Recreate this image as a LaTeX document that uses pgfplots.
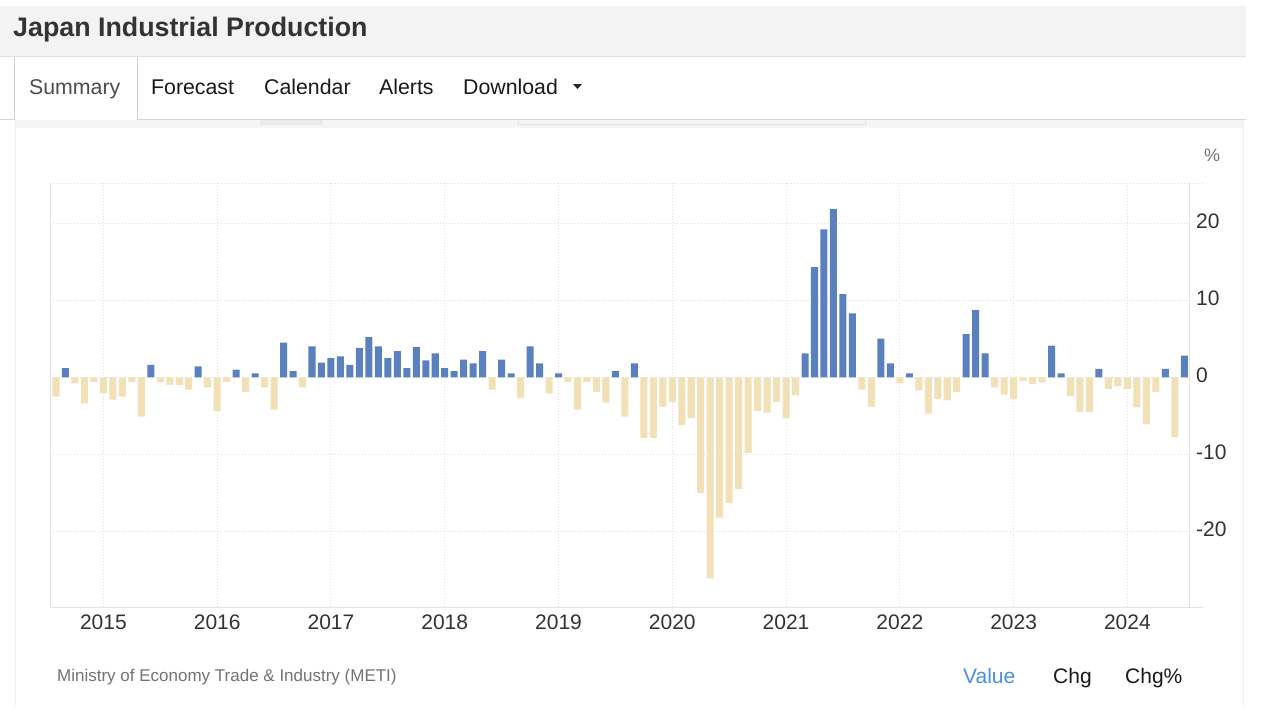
\documentclass[border=0pt]{standalone}
\usepackage{fontspec}
\setmainfont{Liberation Sans}
\usepackage{pgfplots}
\usepackage{pgfplotstable}
\pgfplotsset{compat=1.18}

\definecolor{barblue}{RGB}{91,128,190}
\definecolor{bartan}{RGB}{242,224,183}
\definecolor{gridgray}{RGB}{222,222,222}
\definecolor{axisgray}{RGB}{228,228,228}
\definecolor{headbg}{RGB}{243,243,243}
\definecolor{txtdark}{RGB}{51,51,51}
\definecolor{txtgray}{RGB}{115,115,115}
\definecolor{linkblue}{RGB}{74,144,226}

% month index 0 = Aug 2014 ... 119 = Jul 2024, YoY change in %
\pgfplotstableread{
idx val
0 -2.5
1 1.2
2 -0.8
3 -3.4
4 -0.6
5 -2.1
6 -2.9
7 -2.5
8 -0.6
9 -5.1
10 1.6
11 -0.65
12 -1.0
13 -1.0
14 -1.6
15 1.4
16 -1.3
17 -4.4
18 -0.6
19 1.0
20 -1.9
21 0.5
22 -1.3
23 -4.2
24 4.5
25 0.8
26 -1.3
27 4.0
28 1.9
29 2.5
30 2.7
31 1.6
32 3.8
33 5.2
34 4.0
35 2.5
36 3.4
37 1.2
38 3.9
39 2.2
40 3.1
41 1.2
42 0.8
43 2.3
44 1.8
45 3.4
46 -1.6
47 2.3
48 0.5
49 -2.7
50 4.0
51 1.8
52 -2.1
53 0.5
54 -0.6
55 -4.2
56 -0.6
57 -1.9
58 -3.3
59 0.8
60 -5.1
61 1.8
62 -7.9
63 -7.9
64 -3.8
65 -3.2
66 -6.2
67 -5.3
68 -15.0
69 -26.1
70 -18.2
71 -16.3
72 -14.5
73 -9.8
74 -4.4
75 -4.6
76 -3.2
77 -5.3
78 -2.3
79 3.1
80 14.3
81 19.2
82 21.8
83 10.8
84 8.3
85 -1.6
86 -3.8
87 5.0
88 1.8
89 -0.8
90 0.5
91 -1.7
92 -4.7
93 -2.8
94 -3.0
95 -1.9
96 5.6
97 8.7
98 3.1
99 -1.3
100 -2.25
101 -2.8
102 -0.5
103 -0.9
104 -0.7
105 4.1
106 0.5
107 -2.4
108 -4.5
109 -4.5
110 1.1
111 -1.5
112 -1.1
113 -1.5
114 -3.9
115 -6.1
116 -1.9
117 1.1
118 -7.8
119 2.8
}\ipdata

\begin{document}
\begin{tikzpicture}
\begin{scope}[x=1pt,y=-1pt]
\fill[white] (0,0) rectangle (1262,712);
\path[use as bounding box] (0,0) rectangle (1262,712);

% header
\fill[headbg] (0,6) rectangle (1246,56);
\draw[gray!25] (0,56.5) -- (1246,56.5);
\node[anchor=base west, inner sep=0, text=txtdark,
  font=\fontsize{26.8}{30}\selectfont\bfseries] at (13,36) {Japan Industrial Production};

% tabs
\draw[gray!35] (0,119.5) -- (14.5,119.5) -- (14.5,57) (137,57) -- (137,119.5) -- (1246,119.5);
\begin{scope}[every node/.style={anchor=base west, inner sep=0, font=\fontsize{21.3}{24}\selectfont}]
\node[text=black!70] at (29,94) {Summary};
\node[text=black!90] at (151,94) {Forecast};
\node[text=black!90] at (264,94) {Calendar};
\node[text=black!90] at (379,94) {Alerts};
\node[text=black!90] at (463,94) {Download};
\end{scope}
\fill[black!85] (573,84) -- (582,84) -- (577.5,89) -- cycle;

% panel
\fill[gray!8] (15,120) rectangle (1243,128);
\fill[gray!16] (260,120) rectangle (323,125);
\draw[gray!22] (518,119.5) -- (518,124) -- (865,124) -- (865,119.5);
\draw[gray!12] (15,120) -- (15,706) (1243,120) -- (1243,706);
\end{scope}

\begin{axis}[
  at={(50pt,-607pt)}, anchor=south west,
  width=1139pt, height=424pt, scale only axis,
  xmin=-0.633, xmax=119.5,
  ymin=-29.8, ymax=25.2,
  axis line style={draw=none},
  major tick length=0pt,
  xtick={5,17,29,41,53,65,77,89,101,113},
  xticklabels={2015,2016,2017,2018,2019,2020,2021,2022,2023,2024},
  ytick={-20,-10,0,10,20},
  yticklabels={-20,-10,0,10,20},
  ytick pos=right, yticklabel pos=right,
  xmajorgrids, ymajorgrids,
  major grid style={gridgray, line width=1pt, dash pattern=on 1pt off 2pt},
  xticklabel style={font=\fontsize{21}{24}\selectfont, text=txtdark,
    inner sep=0pt, anchor=north, yshift=-8pt},
  yticklabel style={font=\fontsize{21}{24}\selectfont, text=txtdark,
    inner sep=0pt, anchor=west, xshift=7pt, yshift=2pt},
  clip=false,
]
\addplot[ybar, bar width=0.74, bar shift=0pt, fill=barblue, draw=none,
  restrict y to domain=0:40] table[x=idx, y=val] {\ipdata};
\addplot[ybar, bar width=0.74, bar shift=0pt, fill=bartan, draw=none,
  restrict y to domain=-40:0] table[x=idx, y=val] {\ipdata};
\end{axis}

\begin{scope}[x=1pt,y=-1pt]
% axis frame
\draw[gridgray, line width=1pt, dash pattern=on 1pt off 2pt] (50,183) -- (1203,183);
\draw[axisgray, line width=1pt] (50,183) -- (50,607.5) -- (1203,607.5);
\draw[axisgray, line width=1pt] (1189,183) -- (1189,607);

\node[anchor=center, inner sep=0, text=txtgray, font=\fontsize{18}{20}\selectfont] at (1212,155) {\%};

% footer
\node[anchor=base west, inner sep=0, text=txtgray, font=\fontsize{17}{20}\selectfont]
  at (57,681) {Ministry of Economy Trade \& Industry (METI)};
\begin{scope}[every node/.style={anchor=base west, inner sep=0, font=\fontsize{21}{24}\selectfont}]
\node[text=linkblue] at (963,683.5) {Value};
\node[text=black!90] at (1053,683.5) {Chg};
\node[text=black!90] at (1125,683.5) {Chg\%};
\end{scope}
\end{scope}
\end{tikzpicture}
\end{document}
